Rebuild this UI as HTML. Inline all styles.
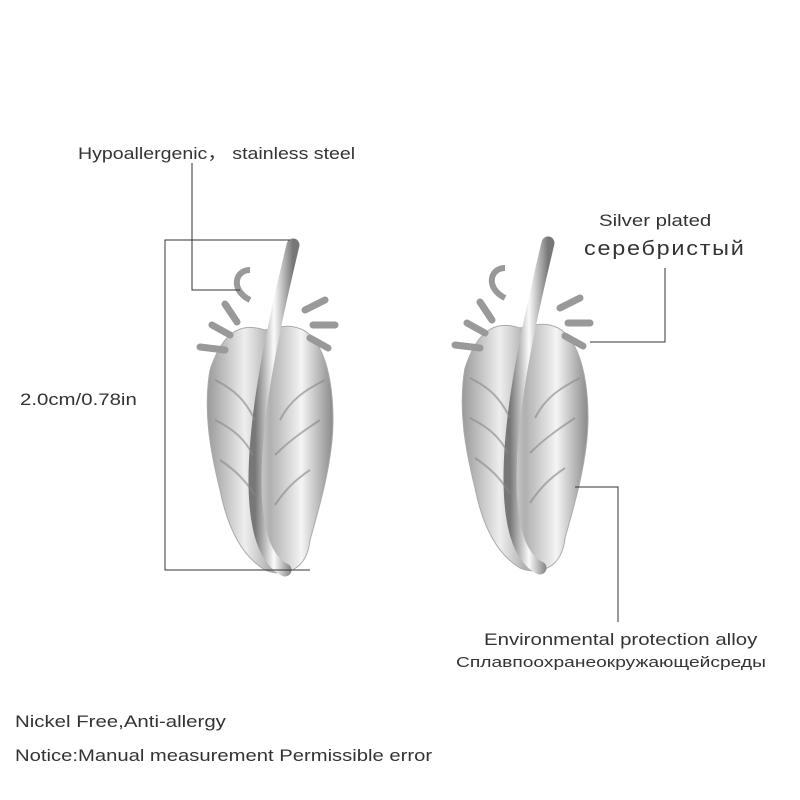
<!DOCTYPE html>
<html><head><meta charset="utf-8"><style>
html,body{margin:0;padding:0;background:#fff;}
#c{position:relative;width:800px;height:800px;overflow:hidden;font-family:"Liberation Sans","DejaVu Sans",sans-serif;color:#333;}
.t{position:absolute;white-space:nowrap;transform-origin:0 0;}
</style></head><body><div id="c">
<svg width="800" height="800" style="position:absolute;left:0;top:0">
<defs>
<linearGradient id="g" x1="0" y1="0" x2="1" y2="0">
<stop offset="0" stop-color="#9a9a9a"/><stop offset="0.3" stop-color="#eee"/><stop offset="0.5" stop-color="#b0b0b0"/><stop offset="0.75" stop-color="#f4f4f4"/><stop offset="1" stop-color="#8a8a8a"/>
</linearGradient>
<linearGradient id="s" x1="0" y1="0" x2="1" y2="0">
<stop offset="0" stop-color="#777"/><stop offset="0.5" stop-color="#fafafa"/><stop offset="1" stop-color="#777"/>
</linearGradient>
<g id="f">
<path d="M0,90 C-30,80 -45,100 -55,130 C-62,170 -55,210 -45,250 C-38,285 -25,315 0,330 C20,338 42,330 45,300 C55,265 68,220 68,180 C68,140 60,110 45,95 C35,85 20,85 10,88 Z" fill="url(#g)" stroke="#aaa" stroke-width="1"/>
<path d="M-35,95 l-18,-10 M-40,110 l-25,-3 M-28,82 l-12,-18 M40,70 l20,-10 M48,85 l22,0 M45,98 l18,10" stroke="#999" stroke-width="7" stroke-linecap="round"/>
<path d="M-15,60 C-35,50 -30,30 -15,30" stroke="#999" stroke-width="6" fill="none"/>
<path d="M28,5 C10,80 -10,170 -10,240 C-10,290 0,320 20,330" stroke="url(#s)" stroke-width="13" fill="none" stroke-linecap="round"/>
<g stroke="#888" stroke-width="2" fill="none" opacity="0.6">
<path d="M-50,140 C-30,150 -20,160 -10,180"/><path d="M-50,180 C-30,190 -20,200 -12,215"/><path d="M-45,220 C-30,230 -20,240 -10,255"/>
<path d="M60,140 C40,150 25,160 15,180"/><path d="M55,180 C40,190 25,200 10,215"/><path d="M45,230 C30,240 20,250 10,265"/>
</g>
</g>
</defs>
<use href="#f" x="265" y="240"/>
<use href="#f" x="520" y="238"/>
<g stroke="#333" stroke-width="1" fill="none">
<polyline points="192,163 192,290 240,290"/>
<polyline points="290,240 165,240 165,570 310,570"/>
<polyline points="665,268 665,342 590,342"/>
<polyline points="575,487 618,487 618,622"/>
</g>
</svg>
<div class="t" style="left:78px;top:139px;font-size:17px;transform:scaleX(1.15)">Hypoallergenic， stainless steel</div>
<div class="t" style="left:20px;top:390px;font-size:17px;transform:scaleX(1.2)">2.0cm/0.78in</div>
<div class="t" style="left:599px;top:211px;font-size:17px;transform:scaleX(1.2)">Silver plated</div>
<div class="t" style="left:584px;top:238px;font-size:20px;letter-spacing:1.5px;transform:scaleX(1.17)">серебристый</div>
<div class="t" style="left:484px;top:630px;font-size:17px;transform:scaleX(1.2)">Environmental protection alloy</div>
<div class="t" style="left:456px;top:654px;font-size:15px;transform:scaleX(1.28)">Сплавпоохранеокружающейсреды</div>
<div class="t" style="left:15px;top:712px;font-size:17px;transform:scaleX(1.2)">Nickel Free,Anti-allergy</div>
<div class="t" style="left:15px;top:746px;font-size:17px;transform:scaleX(1.19)">Notice:Manual measurement Permissible error</div>
</div></body></html>
